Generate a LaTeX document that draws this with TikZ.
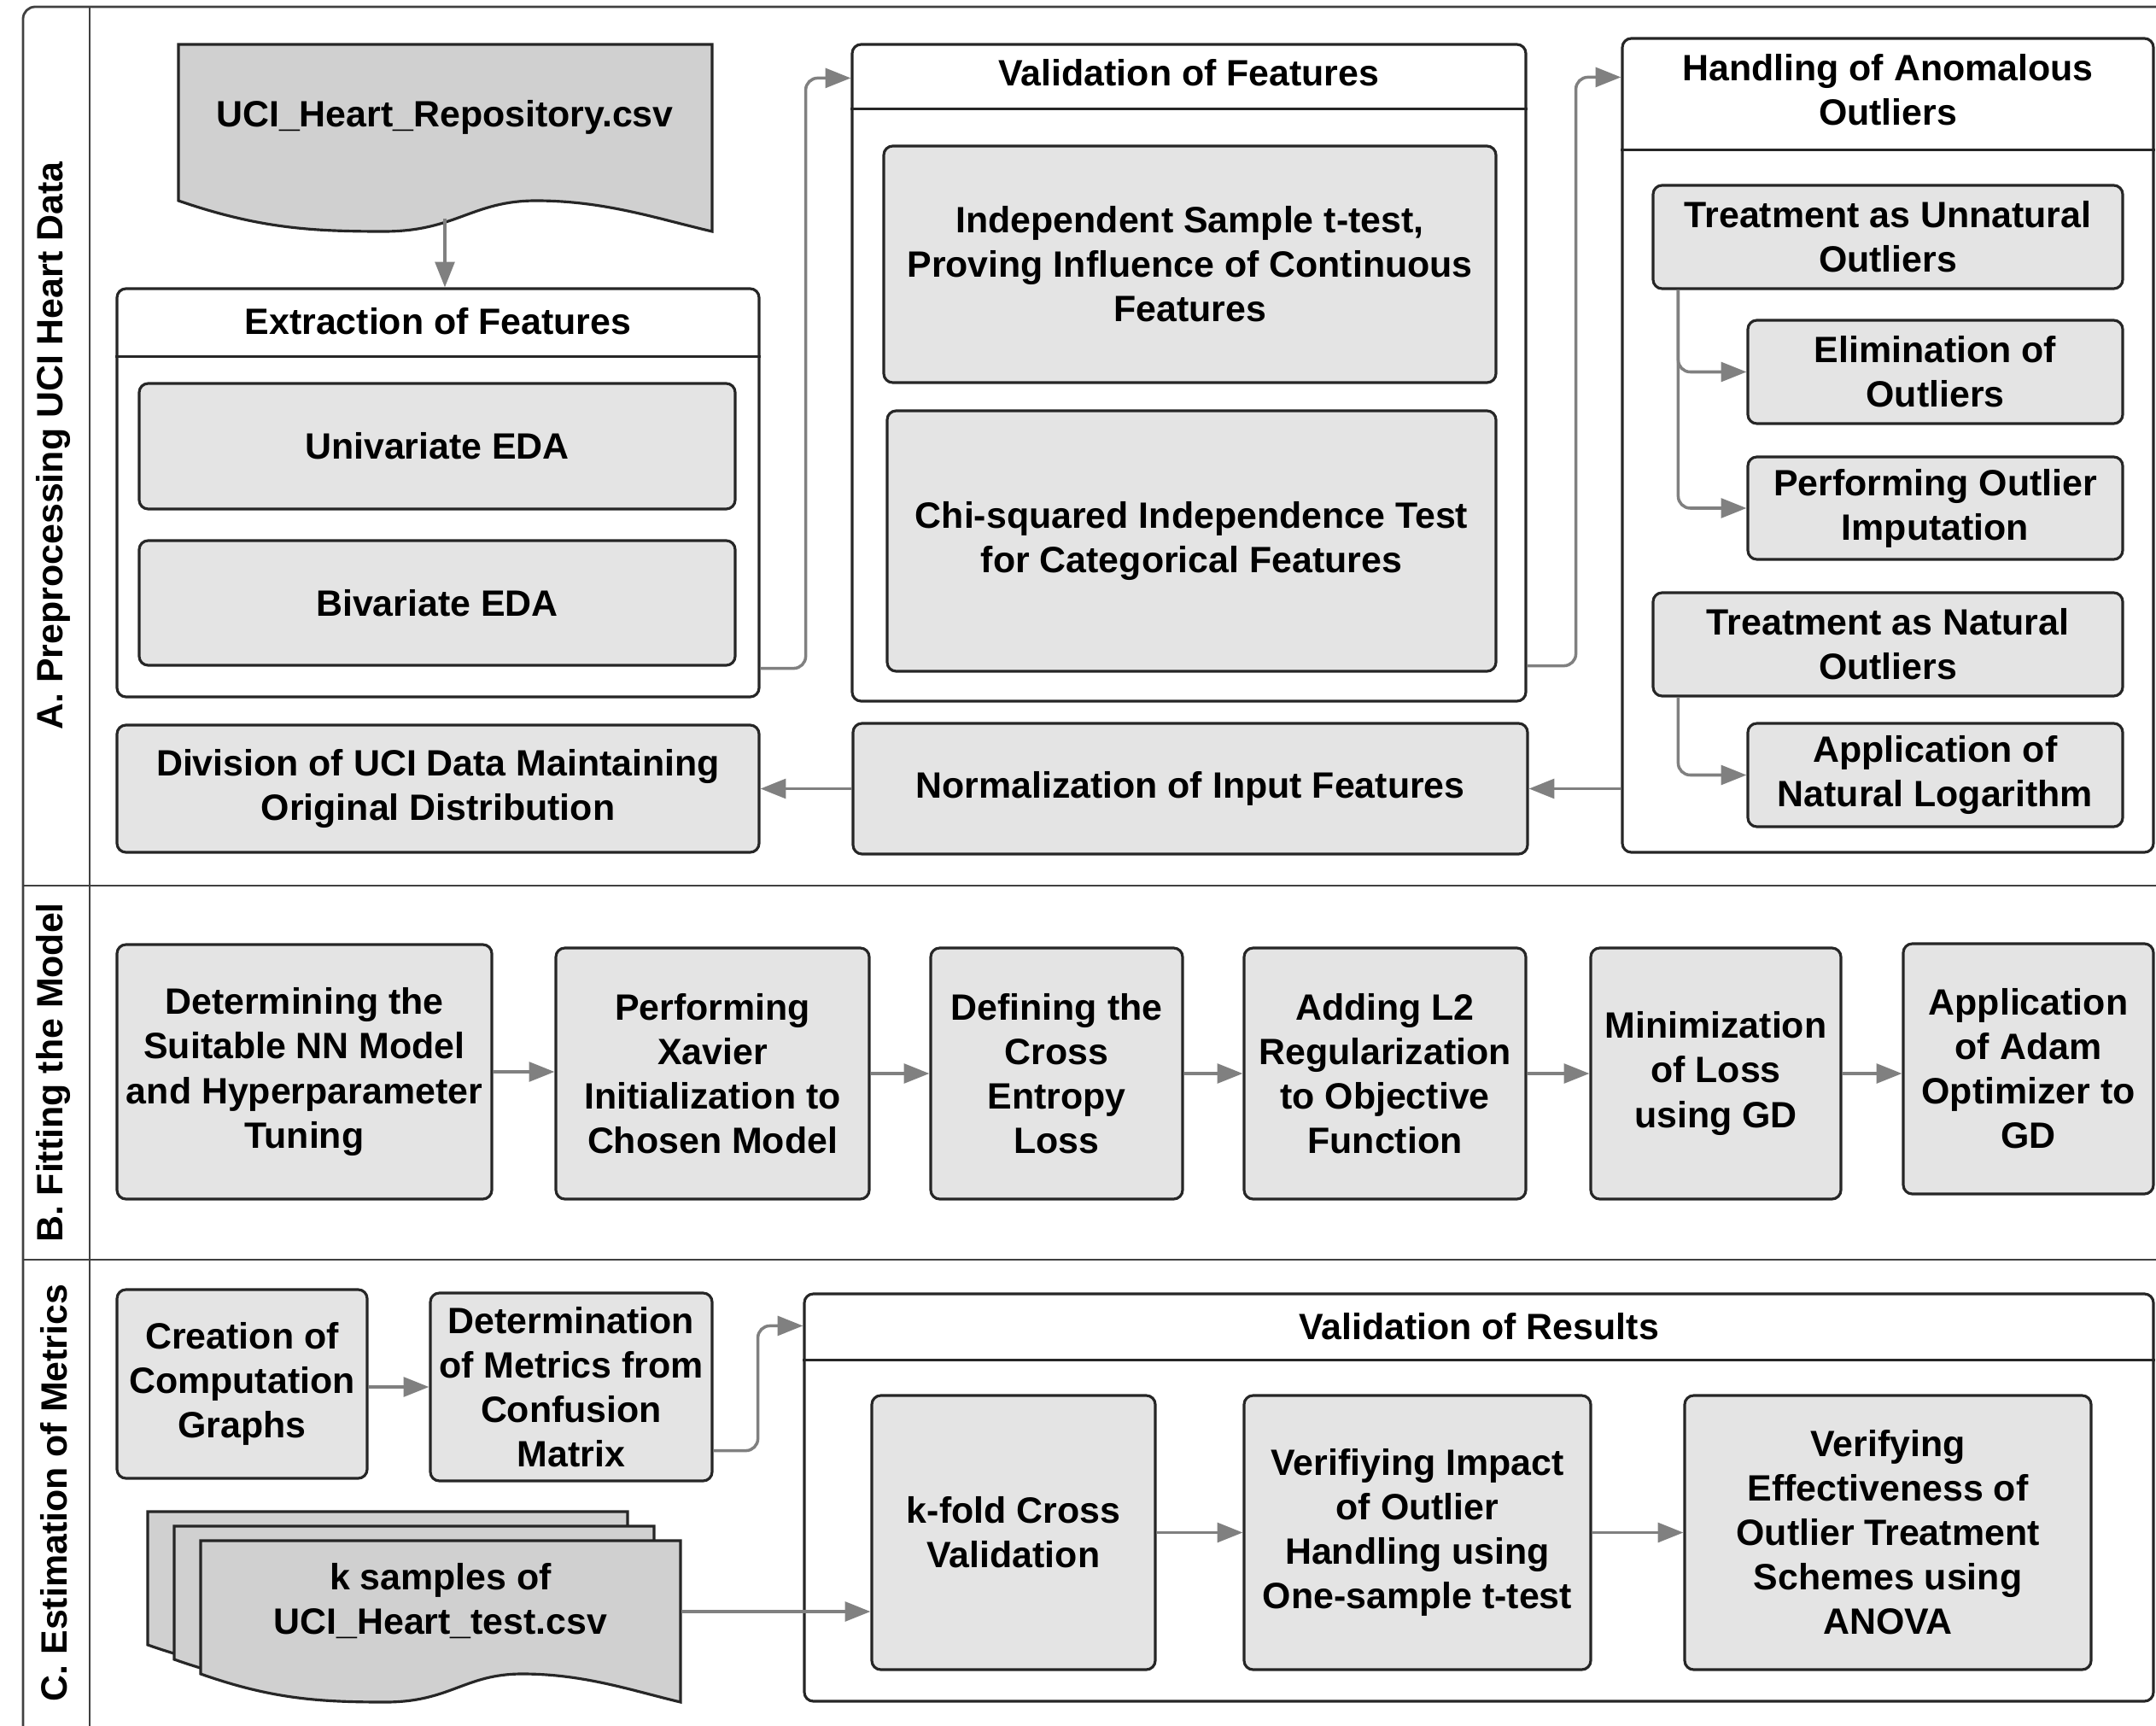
\documentclass[tikz,border=0pt]{standalone}
\usepackage{fontspec}
\setmainfont{Liberation Sans}
\usetikzlibrary{arrows.meta}

\definecolor{boxgray}{HTML}{E4E4E4}
\definecolor{docgray}{HTML}{D0D0D0}
\definecolor{linkgray}{HTML}{808080}
\definecolor{edgegray}{HTML}{262626}

\tikzset{
  stepbox/.style={draw=edgegray, fill=boxgray, line width=0.9pt,
    rounded corners=3pt, align=center, inner xsep=1pt},
  groupbox/.style={draw=edgegray, fill=white, line width=0.9pt,
    rounded corners=3pt},
  groupline/.style={draw=edgegray, line width=0.9pt},
  flow/.style={draw=linkgray, line width=1pt, rounded corners=4pt,
    -{Triangle[length=8.5pt,width=6.5pt]}},
  lanetext/.style={rotate=90},
  docsheet/.style={draw=edgegray, fill=docgray, line width=0.9pt},
  frameline/.style={draw=black!75, line width=0.8pt}
}

% document sheet: top-left x, top y, width, side height, wave depth
\newcommand{\drawdoc}[5]{%
  \filldraw[docsheet, shift={(#1,#2)}] (0,0) -- (#3,0) -- (#3,{-#4-#5})
    .. controls ({0.9*#3},{-#4-0.6*#5}) and ({0.8*#3},{-#4}) .. ({0.67*#3},{-#4})
    .. controls ({0.55*#3},{-#4}) and ({0.52*#3},{-#4-#5}) .. ({0.385*#3},{-#4-#5})
    .. controls ({0.25*#3},{-#4-#5}) and ({0.15*#3},{-#4-0.9*#5}) .. (0,{-#4})
    -- cycle;}

\begin{document}
\begin{tikzpicture}[font=\fontsize{12.2}{14.8}\selectfont\bfseries]
  \useasboundingbox (0,0) rectangle (25.25,-20.21);

  % lanes
  \draw[frameline, rounded corners=4pt] (25.6,-0.08) -- (0.27,-0.08) -- (0.27,-20.6);
  \draw[frameline] (1.05,-0.08) -- (1.05,-20.6);
  \draw[frameline] (0.27,-10.37) -- (25.6,-10.37);
  \draw[frameline] (0.27,-14.75) -- (25.6,-14.75);
  \node[lanetext] (laneA) at (0.63,-5.22) {A. Preprocessing UCI Heart Data};
  \node[lanetext] (laneB) at (0.63,-12.56) {B. Fitting the Model};
  \node[lanetext] (laneC) at (0.63,-17.48) {C. Estimation of Metrics};

  % A. preprocessing
  \drawdoc{2.09}{-0.52}{6.25}{1.83}{0.36}
  \node[minimum width=6.25cm, minimum height=2.36cm] (repo) at (5.21,-1.37)
    {UCI\_Heart\_Repository.csv};

  \node[groupbox, minimum width=7.52cm, minimum height=4.78cm] (extract) at (5.13,-5.77) {};
  \draw[groupline] ([yshift=-0.81cm]extract.north west) -- ([yshift=-0.81cm]extract.north east);
  \node (extract-title) at (5.13,-3.76) {Extraction of Features};
  \node[stepbox, minimum width=6.98cm, minimum height=1.47cm] (univar) at (5.12,-5.225) {Univariate EDA};
  \node[stepbox, minimum width=6.98cm, minimum height=1.46cm] (bivar) at (5.12,-7.06) {Bivariate EDA};

  \node[groupbox, minimum width=7.89cm, minimum height=7.69cm] (valid) at (13.925,-4.365) {};
  \draw[groupline] ([yshift=-0.77cm]valid.north west) -- ([yshift=-0.77cm]valid.north east);
  \node (valid-title) at (13.925,-0.85) {Validation of Features};
  \node[stepbox, minimum width=7.17cm, minimum height=2.77cm] (ttest) at (13.935,-3.095)
    {Independent Sample t-test,\\Proving Influence of Continuous\\Features};
  \node[stepbox, minimum width=7.13cm, minimum height=3.05cm] (chisq) at (13.955,-6.335)
    {Chi-squared Independence Test\\for Categorical Features};

  \node[groupbox, minimum width=6.22cm, minimum height=9.53cm] (handle) at (22.11,-5.215) {};
  \draw[groupline] ([yshift=-1.32cm]handle.north west) -- ([yshift=-1.32cm]handle.north east);
  \node[align=center] (handle-title) at (22.11,-1.05) {Handling of Anomalous\\Outliers};
  \node[stepbox, minimum width=5.5cm, minimum height=1.21cm] (unnat) at (22.11,-2.775)
    {Treatment as Unnatural\\Outliers};
  \node[stepbox, minimum width=4.39cm, minimum height=1.21cm] (elim) at (22.665,-4.355)
    {Elimination of\\Outliers};
  \node[stepbox, minimum width=4.39cm, minimum height=1.2cm] (imput) at (22.665,-5.95)
    {Performing Outlier\\Imputation};
  \node[stepbox, minimum width=5.5cm, minimum height=1.21cm] (natural) at (22.11,-7.545)
    {Treatment as Natural\\Outliers};
  \node[stepbox, minimum width=4.39cm, minimum height=1.21cm] (logar) at (22.665,-9.075)
    {Application of\\Natural Logarithm};

  \node[stepbox, minimum width=7.9cm, minimum height=1.53cm] (norm) at (13.94,-9.235)
    {Normalization of Input Features};
  \node[stepbox, minimum width=7.52cm, minimum height=1.49cm] (divide) at (5.13,-9.235)
    {Division of UCI Data Maintaining\\Original Distribution};

  \draw[flow] (repo.south) -- (repo.south |- extract.north);
  \draw[flow] ([yshift=0.35cm]extract.south east) -- ++(0.53,0)
    |- ([yshift=-0.41cm]valid.north west);
  \draw[flow] ([yshift=0.43cm]valid.south east) -- ++(0.57,0)
    |- ([yshift=-0.47cm]handle.north west);
  \draw[flow] ([xshift=0.31cm]unnat.south west) |- (elim.west);
  \draw[flow] ([xshift=0.31cm]unnat.south west) |- (imput.west);
  \draw[flow] ([xshift=0.31cm]natural.south west) |- (logar.west);
  \draw[flow] (handle.west |- norm.east) -- (norm.east);
  \draw[flow] (norm.west) -- (divide.east);

  % B. fitting
  \node[stepbox, minimum width=4.39cm, minimum height=2.98cm] (nnmodel) at (3.565,-12.55)
    {Determining the\\Suitable NN Model\\and Hyperparameter\\Tuning};
  \node[stepbox, minimum width=3.67cm, minimum height=2.94cm] (xavier) at (8.345,-12.57)
    {Performing\\Xavier\\Initialization to\\Chosen Model};
  \node[stepbox, minimum width=2.95cm, minimum height=2.94cm] (xent) at (12.375,-12.57)
    {Defining the\\Cross\\Entropy\\Loss};
  \node[stepbox, minimum width=3.3cm, minimum height=2.94cm] (ltwo) at (16.22,-12.57)
    {Adding L2\\Regularization\\to Objective\\Function};
  \node[stepbox, minimum width=2.93cm, minimum height=2.94cm] (gdmin) at (20.095,-12.57)
    {Minimization\\of Loss\\using GD};
  \node[stepbox, minimum width=2.93cm, minimum height=2.93cm] (adam) at (23.755,-12.515)
    {Application\\of Adam\\Optimizer to\\GD};

  \draw[flow] (nnmodel.east) -- (nnmodel.east -| xavier.west);
  \draw[flow] (xavier.east) -- (xavier.east -| xent.west);
  \draw[flow] (xent.east) -- (xent.east -| ltwo.west);
  \draw[flow] (ltwo.east) -- (ltwo.east -| gdmin.west);
  \draw[flow] (gdmin.east) -- (gdmin.east -| adam.west);

  % C. metrics
  \node[stepbox, minimum width=2.93cm, minimum height=2.21cm] (graphs) at (2.835,-16.205)
    {Creation of\\Computation\\Graphs};
  \node[stepbox, minimum width=3.3cm, minimum height=2.2cm] (metrics) at (6.69,-16.24)
    {Determination\\of Metrics from\\Confusion\\Matrix};

  \drawdoc{1.73}{-17.70}{5.62}{1.56}{0.33}
  \drawdoc{2.04}{-17.87}{5.62}{1.56}{0.33}
  \drawdoc{2.35}{-18.04}{5.62}{1.56}{0.33}
  \node[minimum width=5.62cm] (ksamp) at (5.16,-18.77)
    {\begin{tabular}{@{}c@{}}k samples of\\UCI\_Heart\_test.csv\end{tabular}};

  \node[groupbox, minimum width=15.8cm, minimum height=4.77cm] (results) at (17.32,-17.535) {};
  \draw[groupline] ([yshift=-0.79cm]results.north west) -- ([yshift=-0.79cm]results.north east);
  \node (results-title) at (17.32,-15.53) {Validation of Results};
  \node[stepbox, minimum width=3.32cm, minimum height=3.21cm] (kfold) at (11.87,-17.945)
    {k-fold Cross\\Validation};
  \node[stepbox, minimum width=4.06cm, minimum height=3.21cm] (impact) at (16.6,-17.945)
    {Verifiying Impact\\of Outlier\\Handling using\\One-sample t-test};
  \node[stepbox, minimum width=4.76cm, minimum height=3.21cm] (anova) at (22.11,-17.945)
    {Verifying\\Effectiveness of\\Outlier Treatment\\Schemes using\\ANOVA};

  \draw[flow] (graphs.east |- metrics.west) -- (metrics.west);
  \draw[flow] ([yshift=0.37cm]metrics.south east) -- ++(0.52,0)
    |- ([yshift=-0.39cm]results.north west);
  \draw[flow] ([yshift=-0.1cm]ksamp.east) -- ([yshift=-0.1cm]ksamp.east -| kfold.west);
  \draw[flow] (kfold.east) -- (kfold.east -| impact.west);
  \draw[flow] (impact.east) -- (impact.east -| anova.west);
\end{tikzpicture}
\end{document}
